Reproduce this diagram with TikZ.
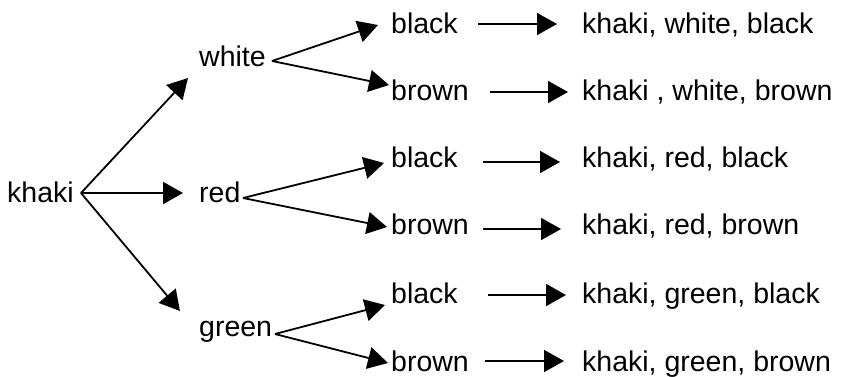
\documentclass[tikz,border=0pt]{standalone}
\usepackage{fontspec}
\setmainfont{Liberation Sans}
\usetikzlibrary{arrows.meta}
\begin{document}
\begin{tikzpicture}[x=1pt,y=-1pt,
  lbl/.style={anchor=base west,inner sep=0pt,font=\fontsize{28.5}{34}\selectfont},
  arr/.style={line width=1.8pt,-{Triangle[length=20pt,width=22pt]}}]
\useasboundingbox (0,0) rectangle (841,376);
% first and second level
\node[lbl] (k) at (7,202) {khaki};
\node[lbl] (w) at (199,66) {white};
\node[lbl] (r) at (199,202) {red};
\node[lbl] (g) at (199,336) {green};
% third level
\node[lbl] (c1) at (391,33) {black};
\node[lbl] (c2) at (391,100) {brown};
\node[lbl] (c3) at (391,167) {black};
\node[lbl] (c4) at (391,234) {brown};
\node[lbl] (c5) at (391,303) {black};
\node[lbl] (c6) at (391,371) {brown};
% outcomes
\node[lbl] (t1) at (582,33) {khaki, white, black};
\node[lbl] (t2) at (582,100) {khaki , white, brown};
\node[lbl] (t3) at (582,167) {khaki, red, black};
\node[lbl] (t4) at (582,234) {khaki, red, brown};
\node[lbl] (t5) at (582,303) {khaki, green, black};
\node[lbl] (t6) at (582,371) {khaki, green, brown};
% fan origins
\coordinate (kO) at (81,193);
\coordinate (wO) at (272,61);
\coordinate (rO) at (243,198);
\coordinate (gO) at (275,334);
% arrow tips
\coordinate (kw) at (188,78);
\coordinate (kr) at (183,193);
\coordinate (kg) at (180,311);
\coordinate (w1) at (378,25);
\coordinate (w2) at (389,85);
\coordinate (r1) at (384,163);
\coordinate (r2) at (387,227);
\coordinate (g1) at (385,305);
\coordinate (g2) at (388,363);
\draw[arr] (kO) -- (kw);
\draw[arr] (kO) -- (kr);
\draw[arr] (kO) -- (kg);
\draw[arr] (wO) -- (w1);
\draw[arr] (wO) -- (w2);
\draw[arr] (rO) -- (r1);
\draw[arr] (rO) -- (r2);
\draw[arr] (gO) -- (g1);
\draw[arr] (gO) -- (g2);
% result arrows
\coordinate (s1) at (478,24);  \coordinate (e1) at (557,24);
\coordinate (s2) at (490,92);  \coordinate (e2) at (568,92);
\coordinate (s3) at (483,162); \coordinate (e3) at (560,162);
\coordinate (s4) at (483,229); \coordinate (e4) at (561,229);
\coordinate (s5) at (488,295); \coordinate (e5) at (566,295);
\coordinate (s6) at (485,361); \coordinate (e6) at (564,361);
\foreach \i in {1,...,6} {\draw[arr] (s\i) -- (e\i);}
\end{tikzpicture}
\end{document}
